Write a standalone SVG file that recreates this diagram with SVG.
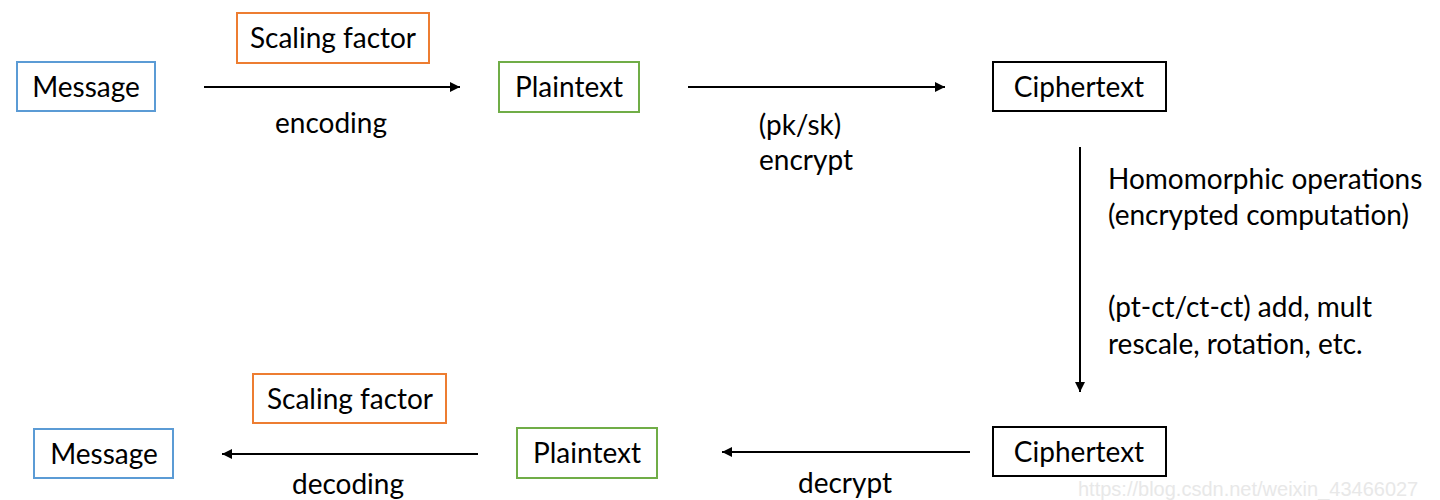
<svg xmlns="http://www.w3.org/2000/svg" width="1440" height="500" viewBox="0 0 1440 500">
<defs>
<style>
.t{font-family:Lato,"Open Sans","Liberation Sans",sans-serif;font-size:28px;fill:#000}
.c{text-anchor:middle}
.box{fill:#fff;stroke-width:2}
.blue{stroke:#5b9bd5}
.orange{stroke:#ed7d31}
.green{stroke:#70ad47}
.black{stroke:#000}
.edge{stroke:#000;stroke-width:2;fill:none}
.wm{font-family:"Liberation Sans",sans-serif;font-size:20px;fill:#e8e8e8}
</style>
<marker id="ah" viewBox="0 0 10 10" refX="10" refY="5" markerWidth="5" markerHeight="5" orient="auto" markerUnits="strokeWidth">
<path d="M0,0 L10,5 L0,10 z" fill="#000"/>
</marker>
</defs>
<rect width="1440" height="500" fill="#fff"/>
<g id="message-top"><rect class="box blue" x="17" y="62" width="138" height="49"/><text class="t c" x="86" y="97">Message</text></g>
<g id="scaling-top"><rect class="box orange" x="237" y="13" width="192" height="50"/><text class="t c" x="333" y="48">Scaling factor</text></g>
<g id="plaintext-top"><rect class="box green" x="499" y="62" width="140" height="50"/><text class="t c" x="569" y="97">Plaintext</text></g>
<g id="ciphertext-top"><rect class="box black" x="993" y="62" width="173" height="49"/><text class="t c" x="1079" y="97">Ciphertext</text></g>
<g id="ciphertext-bottom"><rect class="box black" x="993" y="427" width="173" height="49"/><text class="t c" x="1079" y="462">Ciphertext</text></g>
<g id="plaintext-bottom"><rect class="box green" x="517" y="428" width="140" height="50"/><text class="t c" x="587" y="463">Plaintext</text></g>
<g id="scaling-bottom"><rect class="box orange" x="253" y="374" width="193" height="49"/><text class="t c" x="350" y="409">Scaling factor</text></g>
<g id="message-bottom"><rect class="box blue" x="34" y="429" width="139" height="49"/><text class="t c" x="104" y="464">Message</text></g>
<g id="connectors">
<line class="edge" x1="204" y1="87" x2="460" y2="87" marker-end="url(#ah)"/>
<line class="edge" x1="688" y1="87" x2="945" y2="87" marker-end="url(#ah)"/>
<line class="edge" x1="1080" y1="147" x2="1080" y2="392" marker-end="url(#ah)"/>
<line class="edge" x1="970" y1="452" x2="722" y2="452" marker-end="url(#ah)"/>
<line class="edge" x1="478" y1="454" x2="222" y2="454" marker-end="url(#ah)"/>
</g>
<g id="labels">
<text class="t c" x="331" y="133">encoding</text>
<text class="t c" x="800" y="135">(pk/sk)</text>
<text class="t c" x="806" y="170">encrypt</text>
<text class="t" x="1108" y="189">Homomorphic operations</text>
<text class="t" x="1108" y="225">(encrypted computation)</text>
<text class="t" x="1108" y="317">(pt-ct/ct-ct) add, mult</text>
<text class="t" x="1108" y="354">rescale, rotation, etc.</text>
<text class="t c" x="845" y="493">decrypt</text>
<text class="t c" x="348" y="494">decoding</text>
</g>
<text class="wm" x="1078" y="496">https://blog.csdn.net/weixin_43466027</text>
</svg>
